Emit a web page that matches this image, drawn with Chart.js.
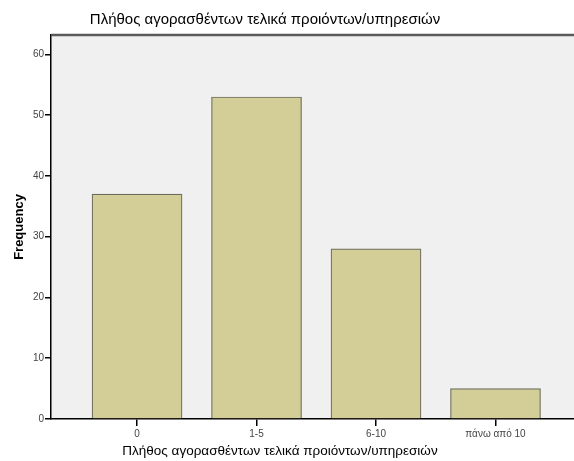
<!DOCTYPE html>
<html><head><meta charset="utf-8">
<script src="https://cdn.jsdelivr.net/npm/chart.js@4"></script>
<style>html,body{margin:0;padding:0;background:#fff;overflow:hidden}</style>
</head><body>
<canvas id="c" width="574" height="461"></canvas>
<script>
const chartTitle = "Πλήθος αγορασθέντων τελικά προιόντων/υπηρεσιών";
const xAxisTitle = "Πλήθος αγορασθέντων τελικά προιόντων/υπηρεσιών";
const yAxisTitle = "Frequency";
const categories = ["0", "1-5", "6-10", "πάνω από 10"];
const frequencies = [37, 53, 28, 5];
const yTickValues = [0, 10, 20, 30, 40, 50, 60];

const FONT = "'Liberation Sans', Arial, sans-serif";

const decor = {
  id: 'decor',
  beforeDraw(chart) {
    const {ctx, chartArea: a} = chart;
    ctx.save();
    ctx.fillStyle = '#f0f0f0';
    ctx.fillRect(a.left, a.top, a.right - a.left, a.bottom - a.top);
    ctx.restore();
  },
  afterDraw(chart) {
    const {ctx, chartArea: a} = chart;
    ctx.save();
    ctx.strokeStyle = '#5a5a5a';
    ctx.lineWidth = 2.5;
    ctx.beginPath();
    ctx.moveTo(a.left, a.top);
    ctx.lineTo(a.right, a.top);
    ctx.stroke();
    ctx.fillStyle = '#000';
    ctx.textAlign = 'center';
    ctx.textBaseline = 'middle';
    ctx.font = '15px ' + FONT;
    ctx.fillText(chartTitle, 265, 20);
    ctx.font = '13.5px ' + FONT;
    ctx.fillText(xAxisTitle, 280, 451);
    ctx.restore();
  }
};

new Chart(document.getElementById('c'), {
  type: 'bar',
  data: {
    datasets: [{
      data: categories.map((c, i) => ({x: i, y: frequencies[i]})),
      backgroundColor: '#d3ce97',
      borderColor: '#6c6c5c',
      borderWidth: 1.2,
      barThickness: 90
    }]
  },
  options: {
    responsive: false,
    animation: false,
    layout: {padding: {top: 35, left: 0, right: 0, bottom: 0}},
    plugins: {legend: {display: false}, tooltip: {enabled: false}, title: {display: false}},
    scales: {
      x: {
        type: 'linear',
        offset: false,
        min: -0.72,
        max: 3.657,
        afterBuildTicks: s => { s.ticks = categories.map((c, i) => ({value: i})); },
        afterFit: s => { s.height = 42; },
        grid: {offset: false, drawOnChartArea: false, drawTicks: true, tickLength: 7, color: '#000', lineWidth: 1.5},
        border: {color: '#000', width: 1.5},
        ticks: {
          callback: (v) => categories[v],
          font: {family: FONT, size: 10},
          color: '#444',
          padding: 2,
          maxRotation: 0,
          autoSkip: false
        }
      },
      y: {
        min: 0,
        max: 63.2,
        afterBuildTicks: s => { s.ticks = yTickValues.map(v => ({value: v})); },
        afterFit: s => { s.width = 51; },
        grid: {drawOnChartArea: false, drawTicks: true, tickLength: 6, color: '#000', lineWidth: 1.5},
        border: {color: '#000', width: 1.5},
        ticks: {
          font: {family: FONT, size: 10},
          color: '#444',
          padding: 1
        },
        title: {
          display: true,
          text: yAxisTitle,
          font: {family: FONT, size: 13, weight: 'bold'},
          color: '#000',
          padding: {top: 12, bottom: 0}
        }
      }
    }
  },
  plugins: [decor]
});
</script>
</body></html>
